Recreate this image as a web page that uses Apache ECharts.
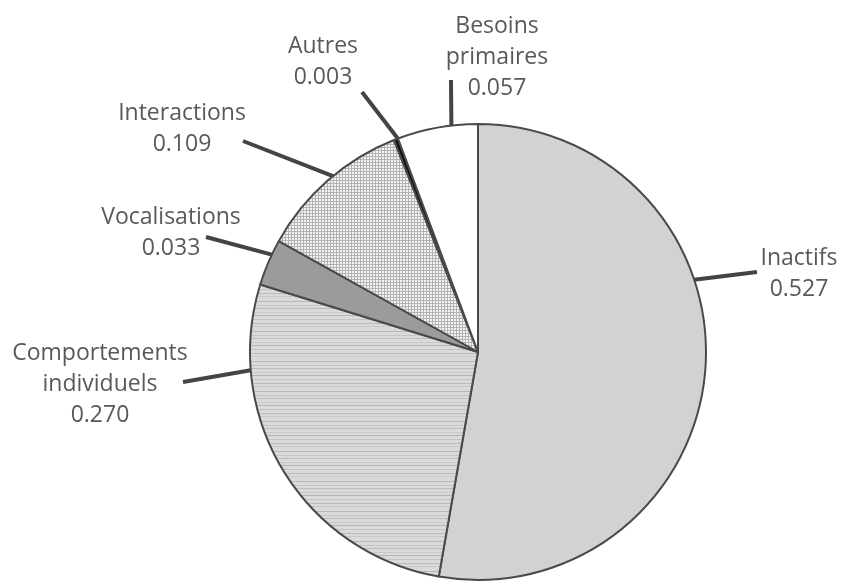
<!DOCTYPE html>
<html>
<head>
<meta charset="utf-8">
<script src="https://cdn.jsdelivr.net/npm/echarts@6/dist/echarts.min.js"></script>
<style>
  html, body { margin: 0; padding: 0; background: #fff; }
  #chart { width: 844px; height: 583px; }
</style>
</head>
<body>
<div id="chart"></div>
<script>
// data, clockwise from 12 o'clock
var categories = ["Inactifs", "Comportements\nindividuels", "Vocalisations", "Interactions", "Autres", "Besoins\nprimaires"];
var values = [0.527, 0.270, 0.033, 0.109, 0.003, 0.057];

// label placement: text centre, leader line outer end, and angle (deg clockwise from top) where it meets the pie
var labelSpots = [
    { x: 799, y: 274, out: [757, 272], angle: 71.5 },
    { x: 100, y: 384, out: [183, 382], angle: -94.6 },
    { x: 171, y: 233, out: [206, 237], angle: -64.7 },
    { x: 182, y: 129, out: [243, 141], angle: -39.5 },
    { x: 323, y: 62, out: [362, 92], angle: -20.6 },
    { x: 497, y: 57, out: [451, 80], angle: -6.7 }
];

var CX = 478, CY = 352, R = 228;

function makePattern(w, h, draw) {
    var c = document.createElement("canvas");
    c.width = w; c.height = h;
    draw(c.getContext("2d"));
    return { image: c, repeat: "repeat" };
}

// horizontal line fill
var hLines = makePattern(4, 30, function (ctx) {
    ctx.fillStyle = "#dadada";
    ctx.fillRect(0, 0, 4, 30);
    var rows = [[1, "#b9b9b9"], [5, "#c6c6c6"], [8, "#bdbdbd"], [12, "#c9c9c9"], [15, "#b5b5b5"], [19, "#c4c4c4"], [23, "#bcbcbc"], [26, "#c8c8c8"]];
    rows.forEach(function (r) { ctx.fillStyle = r[1]; ctx.fillRect(0, r[0], 4, 1); });
});

// cross-hatch fill
var grid = makePattern(3, 3, function (ctx) {
    ctx.fillStyle = "#f4f4f4";
    ctx.fillRect(0, 0, 3, 3);
    ctx.fillStyle = "#b3b3b3";
    ctx.fillRect(0, 0, 3, 1);
    ctx.fillRect(0, 0, 1, 3);
});

var fills = ["#d2d2d2", hLines, "#9b9b9b", grid, "#111111", "#ffffff"];

var chart = echarts.init(document.getElementById("chart"));
chart.setOption({
    backgroundColor: "#fff",
    animation: false,
    series: [{
        type: "pie",
        center: [CX, CY],
        radius: R,
        startAngle: 90,
        clockwise: true,
        data: categories.map(function (name, i) {
            return { name: name, value: values[i], itemStyle: { color: fills[i] } };
        }),
        itemStyle: { borderColor: "#4a4a4a", borderWidth: 2 },
        emphasis: { disabled: true },
        label: {
            show: true,
            formatter: function (p) { return p.name + "\n" + p.value.toFixed(3); },
            fontFamily: "Open Sans",
            fontSize: 23,
            lineHeight: 31,
            color: "#595959",
            align: "center"
        },
        labelLine: {
            show: true,
            lineStyle: { color: "#444", width: 4 }
        },
        labelLayout: function (params) {
            var s = labelSpots[params.dataIndex];
            var a = s.angle * Math.PI / 180;
            var edge = [CX + R * Math.sin(a), CY - R * Math.cos(a)];
            return {
                x: s.x,
                y: s.y,
                align: "center",
                verticalAlign: "middle",
                labelLinePoints: [edge, s.out, s.out]
            };
        }
    }]
});
</script>
</body>
</html>
